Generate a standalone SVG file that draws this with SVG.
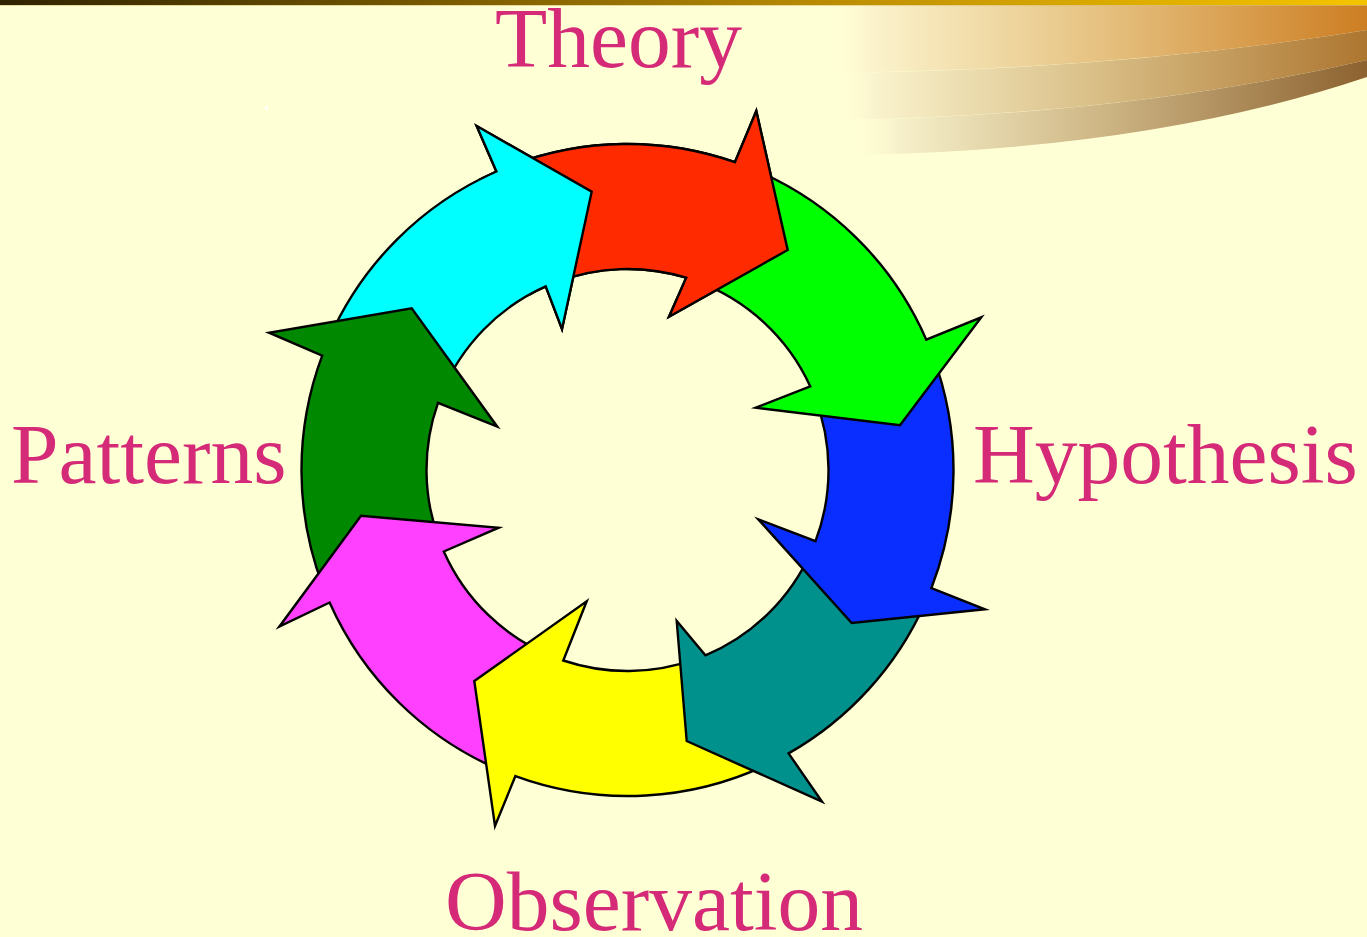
<svg xmlns="http://www.w3.org/2000/svg" xmlns:xlink="http://www.w3.org/1999/xlink" width="1367" height="937" viewBox="0 0 1367 937">
<defs>
<style>
.arrow{stroke:#000;stroke-width:2.4;stroke-linejoin:miter;stroke-miterlimit:10}
.label{font-family:"Liberation Serif","Times New Roman",serif;font-size:85.5px;fill:#D42A78}
</style>
<linearGradient id="topbar" x1="0" y1="0" x2="1367" y2="0" gradientUnits="userSpaceOnUse">
<stop offset="0" stop-color="#2e2200"/>
<stop offset="0.4" stop-color="#8a6800"/>
<stop offset="0.65" stop-color="#c49400"/>
<stop offset="1" stop-color="#f5c400"/>
</linearGradient>
<linearGradient id="band1" x1="828" y1="0" x2="1367" y2="0" gradientUnits="userSpaceOnUse">
<stop offset="0" stop-color="#fffdd5" stop-opacity="0"/>
<stop offset="0.08" stop-color="#fbf3cc"/>
<stop offset="0.5" stop-color="#e6c282"/>
<stop offset="1" stop-color="#cd7e22"/>
</linearGradient>
<linearGradient id="band2" x1="835" y1="0" x2="1367" y2="0" gradientUnits="userSpaceOnUse">
<stop offset="0" stop-color="#fffdd5" stop-opacity="0"/>
<stop offset="0.08" stop-color="#f9f2cc"/>
<stop offset="0.5" stop-color="#d8bd85"/>
<stop offset="1" stop-color="#ad7630"/>
</linearGradient>
<linearGradient id="band3" x1="848" y1="0" x2="1367" y2="0" gradientUnits="userSpaceOnUse">
<stop offset="0" stop-color="#fffdd5" stop-opacity="0"/>
<stop offset="0.1" stop-color="#f6f0ca"/>
<stop offset="0.5" stop-color="#cdb483"/>
<stop offset="1" stop-color="#8c6230"/>
</linearGradient>
<clipPath id="cyanHeadClip">
<polygon points="455,105 612,188 575,350 505,265"/>
</clipPath>
<path id="p-cyan" d="M 328.6 339.8 A 326 326 0 0 1 496.4 171.5 L 476.7 126 L 591.7 191.7 L 562 329 L 545.7 286.4 A 201 201 0 0 0 441.8 393.1 Z"/>
</defs>

<rect x="0" y="0" width="1367" height="937" fill="#FFFFD5"/>

<g id="decoration">
<path d="M 826 5 L 1367 5 L 1367 30 Q 1120 70 828 73 Z" fill="url(#band1)"/>
<path d="M 836 73 Q 1120 70 1367 30 L 1367 60 Q 1130 115 840 120 Z" fill="url(#band2)"/>
<path d="M 845 120 Q 1130 115 1367 60 L 1367 77 Q 1150 150 853 155 Z" fill="url(#band3)"/>
<rect x="0" y="0" width="1367" height="5" fill="url(#topbar)"/>
<rect x="0" y="5" width="1367" height="1" fill="#d8c070" opacity="0.6"/>
<rect x="265" y="106.5" width="3" height="3" fill="#ffffff"/>
</g>

<g id="cycle">
<g id="arrow-red"><path class="arrow" fill="#FF2A00" d="M 512.2 165.1 A 326 326 0 0 1 734.9 162.2 L 756.3 111 L 787.7 250 L 669 316.7 L 686.2 277.7 A 201 201 0 0 0 555.4 282.4 Z"/></g>
<g id="arrow-cyan"><use xlink:href="#p-cyan" href="#p-cyan" class="arrow" fill="#00FFFF"/></g>
<g id="arrow-darkgreen"><path class="arrow" fill="#008800" d="M 323.1 586.7 A 326 326 0 0 1 322.2 355.6 L 269 332.7 L 411.7 308.3 L 497.3 426.7 L 438 402.9 A 201 201 0 0 0 439.8 541.8 Z"/></g>
<g id="arrow-magenta"><path class="arrow" fill="#FF40FF" d="M 499.5 769.8 A 326 326 0 0 1 329.6 602.5 L 279.3 626.7 L 361 515.7 L 498.7 527.7 L 443.8 551.5 A 201 201 0 0 0 553.4 656.9 Z"/></g>
<g id="arrow-yellow"><path class="arrow" fill="#FFFF00" d="M 773.5 761.5 A 326 326 0 0 1 515.4 776.1 L 495 826 L 474.3 681 L 586.7 601.3 L 563.3 660.5 A 201 201 0 0 0 695.6 659.1 Z"/></g>
<g id="arrow-teal"><path class="arrow" fill="#00918C" d="M 924.8 603.7 A 326 326 0 0 1 788.6 753.4 L 822 801.7 L 686.7 741 L 676.7 621 L 705.4 655.3 A 201 201 0 0 0 811.5 550.9 Z"/></g>
<g id="arrow-blue"><path class="arrow" fill="#0A2EFF" d="M 932.8 355.6 A 326 326 0 0 1 931.4 588 L 985 609.3 L 851.7 623 L 758.3 519.3 L 815.5 541.2 A 201 201 0 0 0 814.4 396.1 Z"/></g>
<g id="arrow-green"><path class="arrow" fill="#00FF00" d="M 750.9 168.2 A 326 326 0 0 1 926.3 339.7 L 981.3 317.3 L 900 425.3 L 755.7 407.7 L 810.3 386.4 A 201 201 0 0 0 696.2 281.1 Z"/></g>
<g id="arrow-red-top"><path class="arrow" fill="#FF2A00" d="M 512.2 165.1 A 326 326 0 0 1 734.9 162.2 L 756.3 111 L 787.7 250 L 669 316.7 L 686.2 277.7 A 201 201 0 0 0 555.4 282.4 Z"/></g>
<g id="arrow-cyan-head"><use xlink:href="#p-cyan" href="#p-cyan" class="arrow" fill="#00FFFF" clip-path="url(#cyanHeadClip)"/></g>
</g>

<g id="labels">
<text class="label" x="495" y="67">Theory</text>
<text class="label" x="973" y="483">Hypothesis</text>
<text class="label" x="445" y="930">Observation</text>
<text class="label" x="11" y="483">Patterns</text>
</g>
</svg>
